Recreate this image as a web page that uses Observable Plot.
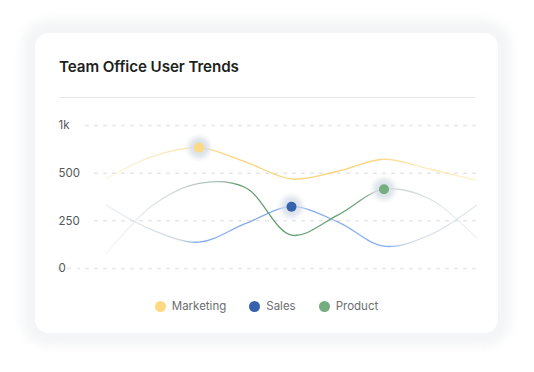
<!DOCTYPE html>
<html><head><meta charset="utf-8">
<script src="https://cdn.jsdelivr.net/npm/d3@7"></script>
<script src="https://cdn.jsdelivr.net/npm/@observablehq/plot@0.6"></script>
<style>
html,body{margin:0;padding:0;background:#fff;}
body{width:534px;height:372px;position:relative;overflow:hidden;font-family:Inter,"Noto Sans",sans-serif;}
#halo{position:absolute;left:22px;top:20px;width:489px;height:326px;border-radius:26px;background:#f4f5f6;filter:blur(5px);}
#card{position:absolute;left:35px;top:33px;width:463px;height:300px;border-radius:14px;background:#fff;}
#title{position:absolute;left:59px;top:56px;font-size:15.2px;font-weight:600;color:#1d1f21;line-height:22px;white-space:nowrap;letter-spacing:-0.1px;}
#sep{position:absolute;left:59px;top:97px;width:416px;height:1px;background:#e5e8eb;}
#chart{position:absolute;left:0;top:100px;}
#legend{position:absolute;top:298px;left:35px;width:463px;height:16px;display:flex;justify-content:center;align-items:center;font-size:11.5px;color:#6c6e70;}
.item{display:flex;align-items:center;margin:0 11.5px;}
.sw{width:11px;height:11px;border-radius:50%;margin-right:6px;}
</style>
</head><body>
<div id="halo"></div>
<div id="card"></div>
<div id="title">Team Office User Trends</div>
<div id="sep"></div>
<div id="chart"></div>
<div id="legend"></div>
<script>
const periods = [0, 1, 2, 3, 4, 5, 6, 7, 8];
const seriesNames = ["Marketing","Sales","Product"];
const seriesColors = ["#fdd982","#3561ad","#74ae80"];
const marketing = [472, 677, 768, 619, 470, 520, 646, 541, 463];
const sales = [332, 201, 138, 235, 324, 245, 117, 177, 332];
const product = [80, 332, 447, 425, 175, 280, 416, 363, 160];
const highlightIndex = [2, 4, 6];
const yTicks = [0, 250, 500, 1000];
const yTickLabels = ["0", "250", "500", "1k"];

const W = 534, H = 180, mT = 25, mB = 12;
const allSeries = [marketing, sales, product];
const rows = (vals) => vals.map((v, i) => ({period: periods[i], value: v}));
const highlights = seriesNames.map((s, k) => ({
  series: s, period: periods[highlightIndex[k]], value: allSeries[k][highlightIndex[k]], color: seriesColors[k]
}));
const gradIds = ["url(#gmkt)", "url(#gsales)", "url(#gprod)"];
// evenly spaced piecewise y range (ticks equally spaced)
const yRange = yTicks.map((_, i) => (H - mB) - i * ((H - mB) - mT) / (yTicks.length - 1));

const plot = Plot.plot({
  width: W,
  height: H,
  marginLeft: 58,
  marginRight: 58,
  marginTop: mT,
  marginBottom: mB,
  style: {background: "transparent", fontFamily: "Inter, sans-serif"},
  x: {domain: [periods[0], periods[periods.length - 1]], insetLeft: 48, axis: null},
  y: {type: "linear", domain: yTicks, range: yRange, axis: null},
  marks: [
    Plot.ruleY(yTicks, {stroke: "#e6e7e8", strokeWidth: 1.5, strokeDasharray: "4,5"}),
    Plot.text(yTicks, {y: d => d, text: (d, i) => yTickLabels[i], frameAnchor: "left", textAnchor: "start",
      fill: "#55575a", stroke: "white", strokeWidth: 24, fontSize: 11.5}),
    ...allSeries.map((vals, k) => Plot.line(rows(vals), {x: "period", y: "value", curve: "catmull-rom",
      stroke: gradIds[k], strokeWidth: 1.3})),
    Plot.dot(highlights, {x: "period", y: "value", r: 15, fill: "url(#ghalo)"}),
    Plot.dot(highlights, {x: "period", y: "value", r: 5, fill: d => d.color})
  ]
});

const defs = `
<linearGradient id="gmkt" x1="0" x2="1" y1="0" y2="0">
  <stop offset="0" stop-color="#fbe3a6" stop-opacity="0.35"/>
  <stop offset="0.2" stop-color="#fcdc93" stop-opacity="0.75"/>
  <stop offset="0.3" stop-color="#fcd37a" stop-opacity="1"/>
  <stop offset="0.7" stop-color="#fcd37a" stop-opacity="1"/>
  <stop offset="0.86" stop-color="#fcdc93" stop-opacity="0.7"/>
  <stop offset="1" stop-color="#fbe3a6" stop-opacity="0.45"/>
</linearGradient>
<linearGradient id="gsales" x1="0" x2="1" y1="0" y2="0">
  <stop offset="0" stop-color="#d7dee5" stop-opacity="0.5"/>
  <stop offset="0.2" stop-color="#c9d5df" stop-opacity="1"/>
  <stop offset="0.24" stop-color="#86adf1" stop-opacity="1"/>
  <stop offset="0.76" stop-color="#86adf1" stop-opacity="1"/>
  <stop offset="0.81" stop-color="#cfd9e0" stop-opacity="1"/>
  <stop offset="1" stop-color="#d7e0e6" stop-opacity="0.7"/>
</linearGradient>
<linearGradient id="gprod" x1="0" x2="1" y1="0" y2="0">
  <stop offset="0" stop-color="#e3e8e8" stop-opacity="0.3"/>
  <stop offset="0.25" stop-color="#b7c7c3" stop-opacity="1"/>
  <stop offset="0.3" stop-color="#a9c0b2" stop-opacity="1"/>
  <stop offset="0.36" stop-color="#5f9c6c" stop-opacity="1"/>
  <stop offset="0.67" stop-color="#6ba477" stop-opacity="1"/>
  <stop offset="0.73" stop-color="#b8c9c6" stop-opacity="1"/>
  <stop offset="1" stop-color="#dfe6e8" stop-opacity="0.5"/>
</linearGradient>
<radialGradient id="ghalo">
  <stop offset="0" stop-color="#c9d3df" stop-opacity="0.9"/>
  <stop offset="0.55" stop-color="#d5dde6" stop-opacity="0.7"/>
  <stop offset="1" stop-color="#e6ebf0" stop-opacity="0"/>
</radialGradient>`;
const d = document.createElementNS("http://www.w3.org/2000/svg", "defs");
d.innerHTML = defs;
plot.insertBefore(d, plot.firstChild);
document.getElementById("chart").appendChild(plot);

const legend = d3.select("#legend");
seriesNames.forEach((s, k) => {
  const it = legend.append("div").attr("class", "item");
  it.append("div").attr("class", "sw").style("background", seriesColors[k]);
  it.append("span").text(s);
});
</script>
</body></html>
